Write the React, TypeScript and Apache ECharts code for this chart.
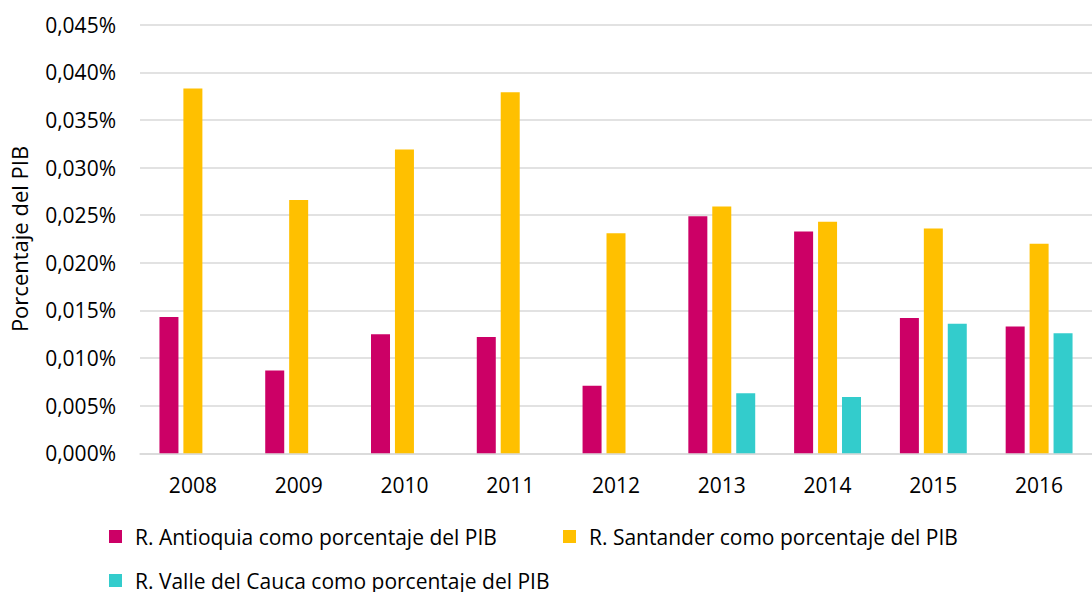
import React, { useEffect, useRef } from "react";
import * as echarts from "echarts";

// Years on the category axis
const years = ["2008", "2009", "2010", "2011", "2012", "2013", "2014", "2015", "2016"];

// Values in percent of GDP
const antioquia = [0.0143, 0.0087, 0.0125, 0.0122, 0.0071, 0.0249, 0.0233, 0.0142, 0.0133];
const santander = [0.0383, 0.0266, 0.0319, 0.0379, 0.0231, 0.0259, 0.0243, 0.0236, 0.0220];
const valle = [0, 0, 0, 0, 0, 0.0063, 0.0059, 0.0136, 0.0126];

const seriesNames = [
  "R. Antioquia como porcentaje del PIB",
  "R. Santander como porcentaje del PIB",
  "R. Valle del Cauca como porcentaje del PIB",
];
const colors = ["#CC0066", "#FFC000", "#33CCCC"];
const yTitle = "Porcentaje del PIB";

const FONT = "'Open Sans', 'Noto Sans', sans-serif";

export default function App() {
  const ref = useRef<HTMLDivElement>(null);

  useEffect(() => {
    if (!ref.current) return;
    const chart = echarts.init(ref.current, null, { renderer: "svg" });

    const legendBase = {
      orient: "horizontal" as const,
      padding: 0,
      itemWidth: 13,
      itemHeight: 13,
      icon: "rect",
      textStyle: { fontFamily: FONT, fontSize: 21, color: "#000", padding: [0, 0, 0, 8] },
      selectedMode: false,
    };

    chart.setOption({
      animation: false,
      textStyle: { fontFamily: FONT },
      color: colors,
      grid: { left: 140, top: 24.7, width: 967, bottom: 138.7, containLabel: false },
      legend: [
        { ...legendBase, data: [seriesNames[0]], left: 109, top: 526 },
        { ...legendBase, data: [seriesNames[1]], left: 563, top: 526 },
        { ...legendBase, data: [seriesNames[2]], left: 109, top: 570 },
      ],
      xAxis: {
        type: "category",
        data: years,
        axisLine: { show: true, lineStyle: { color: "#d9d9d9", width: 1.5 } },
        axisTick: { show: false },
        axisLabel: { fontFamily: FONT, fontSize: 21, color: "#000", margin: 21 },
      },
      yAxis: {
        type: "value",
        min: 0,
        max: 0.045,
        interval: 0.005,
        name: yTitle,
        nameLocation: "middle",
        nameGap: 110,
        nameRotate: 90,
        nameTextStyle: { fontFamily: FONT, fontSize: 22, color: "#000" },
        axisLine: { show: false },
        axisTick: { show: false },
        splitLine: { lineStyle: { color: "#d9d9d9", width: 1.5 } },
        axisLabel: {
          fontFamily: FONT,
          fontSize: 21,
          color: "#000",
          margin: 24,
          formatter: (v: number) => v.toFixed(3).replace(".", ",") + "%",
        },
      },
      series: [antioquia, santander, valle].map((d, i) => ({
        type: "bar",
        name: seriesNames[i],
        data: d,
        barWidth: 19,
        barGap: "26%",
        itemStyle: { color: colors[i] },
      })),
    });

    return () => chart.dispose();
  }, []);

  return (
    <div
      ref={ref}
      style={{ position: "fixed", left: 0, top: 0, width: 1092, height: 592, background: "#fff" }}
    />
  );
}
